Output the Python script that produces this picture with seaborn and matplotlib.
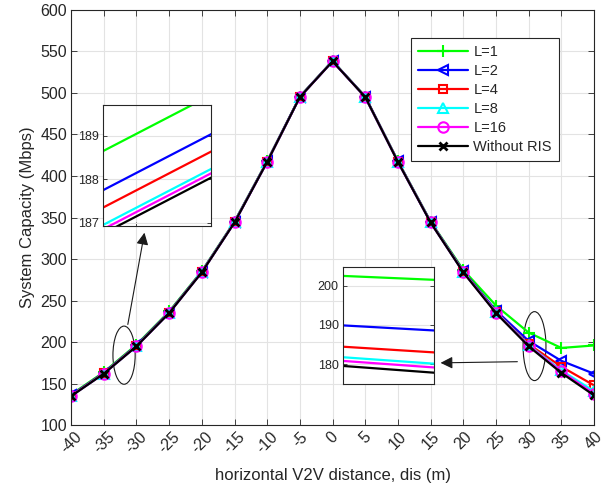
import numpy as np
import pandas as pd
import matplotlib
matplotlib.use('Agg')
import matplotlib.pyplot as plt
from matplotlib.patches import Ellipse
import seaborn as sns

# horizontal distance (m)
dis = [-40, -35, -30, -25, -20, -15, -10, -5, 0, 5, 10, 15, 20, 25, 30, 35, 40]

# system capacity (Mbps) per number of RIS elements
cap_L1 = [136.9, 163.9, 196.9, 236.9, 285.5, 345.2, 418.0, 495.6, 538.5, 495.6, 418.0, 345.2, 287.0, 244.0, 211.5, 193.0, 196.0]
cap_L2 = [136.0, 163.0, 196.0, 236.0, 284.8, 344.7, 417.6, 495.4, 538.3, 495.4, 417.6, 344.7, 285.5, 238.0, 201.5, 177.5, 162.0]
cap_L4 = [135.6, 162.6, 195.6, 235.6, 284.5, 344.4, 417.3, 495.2, 538.2, 495.2, 417.3, 344.4, 285.0, 236.5, 197.5, 170.5, 148.0]
cap_L8 = [135.2, 162.2, 195.2, 235.2, 284.2, 344.2, 417.1, 495.1, 538.1, 495.1, 417.1, 344.2, 284.5, 236.0, 196.5, 166.0, 141.0]
cap_L16 = [135.1, 162.1, 195.1, 235.1, 284.1, 344.1, 417.0, 495.0, 538.0, 495.0, 417.0, 344.1, 284.2, 235.5, 195.8, 164.8, 138.0]
cap_noris = [135.0, 162.0, 195.0, 235.0, 284.0, 344.0, 417.0, 495.0, 538.0, 495.0, 417.0, 344.0, 284.0, 235.0, 195.0, 163.0, 136.0]

labels = ['L=1', 'L=2', 'L=4', 'L=8', 'L=16', 'Without RIS']
colors = ['#00ff00', '#0000ff', '#ff0000', '#00ffff', '#ff00ff', '#000000']
markers = ['+', '<', 's', '^', 'o', 'x']
msizes = [9, 7, 6, 7, 7.5, 6]
series = [cap_L1, cap_L2, cap_L4, cap_L8, cap_L16, cap_noris]

sns.set_theme(style='ticks')
plt.rcParams['font.family'] = ['Liberation Sans', 'DejaVu Sans']
plt.rcParams['axes.unicode_minus'] = False

fig = plt.figure(figsize=(6.13, 4.91), dpi=100)
ax = fig.add_axes([0.116, 0.134, 0.853, 0.846])


def draw_lines(axis, with_markers=True, legend=False):
    for lab, col, mk, ms, vals in zip(labels, colors, markers, msizes, series):
        df = pd.DataFrame({'dis': dis, 'cap': vals})
        kw = {}
        if with_markers:
            kw = dict(marker=mk, markersize=ms,
                      markerfacecolor='none', markeredgecolor=col,
                      markeredgewidth=1.5 if mk != 'x' else 2)
        sns.lineplot(data=df, x='dis', y='cap', ax=axis, color=col,
                     linewidth=1.6, label=lab if legend else None,
                     legend=False, **kw)


def style_axis(axis, fs):
    axis.grid(True, color='#e3e3e3', linewidth=0.8)
    axis.set_axisbelow(True)
    for sp in axis.spines.values():
        sp.set_visible(True)
        sp.set_color('#262626')
        sp.set_linewidth(0.8)
    axis.tick_params(direction='in', top=True, right=True, length=4,
                     width=0.6, labelsize=fs, colors='#262626', pad=3)


draw_lines(ax, legend=True)
style_axis(ax, 11.5)
ax.set_xlim(-40, 40)
ax.set_ylim(100, 600)
ax.set_xticks(np.arange(-40, 41, 5))
ax.set_yticks(np.arange(100, 601, 50))
for t in ax.get_xticklabels():
    t.set_rotation(45)
    t.set_ha('center')
    t.set_va('top')
ax.set_xlabel('horizontal V2V distance, dis (m)', fontsize=12, color='#262626', labelpad=8)
ax.set_ylabel('System Capacity (Mbps)', fontsize=12, color='#262626', labelpad=4)

leg = ax.legend(loc='upper right', bbox_to_anchor=(0.923, 0.937),
                bbox_transform=fig.transFigure, fontsize=10.5,
                handlelength=3.4, labelspacing=0.35, borderpad=0.45,
                handletextpad=0.4, fancybox=False, framealpha=1)
leg.get_frame().set_edgecolor('#262626')
leg.get_frame().set_linewidth(0.8)

# ellipses marking the zoomed regions
ax.add_patch(Ellipse((-31.9, 184.3), 3.4, 70, fill=False, edgecolor='k', linewidth=0.8))
ax.add_patch(Ellipse((30.9, 195.2), 3.5, 83, fill=False, edgecolor='k', linewidth=0.8))

# arrows towards the insets
ax.annotate('', xy=(-28.7, 335), xytext=(-31.4, 218),
            arrowprops=dict(arrowstyle='-|>', color='k', lw=0.8, mutation_scale=18))
ax.annotate('', xy=(16.1, 175), xytext=(28.7, 176.5),
            arrowprops=dict(arrowstyle='-|>', color='k', lw=0.8, mutation_scale=18))

# left inset
axl = fig.add_axes([0.168, 0.540, 0.176, 0.246])
draw_lines(axl, with_markers=False)
style_axis(axl, 9)
axl.set_xlim(-31.25, -31.055)
axl.set_ylim(186.93, 189.71)
axl.set_yticks([187, 188, 189])
axl.set_xticks([-31.19])
axl.set_xticklabels([''])
axl.set_xlabel('')
axl.set_ylabel('')
axl.tick_params(top=False, right=True, length=3)

# right inset
axr = fig.add_axes([0.5595, 0.218, 0.1485, 0.238])
draw_lines(axr, with_markers=False)
style_axis(axr, 9)
axr.set_xlim(32.42, 32.69)
axr.set_ylim(174.9, 204.8)
axr.set_yticks([180, 190, 200])
axr.set_xticks([])
axr.set_xlabel('')
axr.set_ylabel('')
axr.tick_params(top=False, right=True, length=3)

fig.savefig('out.png', dpi=100)
